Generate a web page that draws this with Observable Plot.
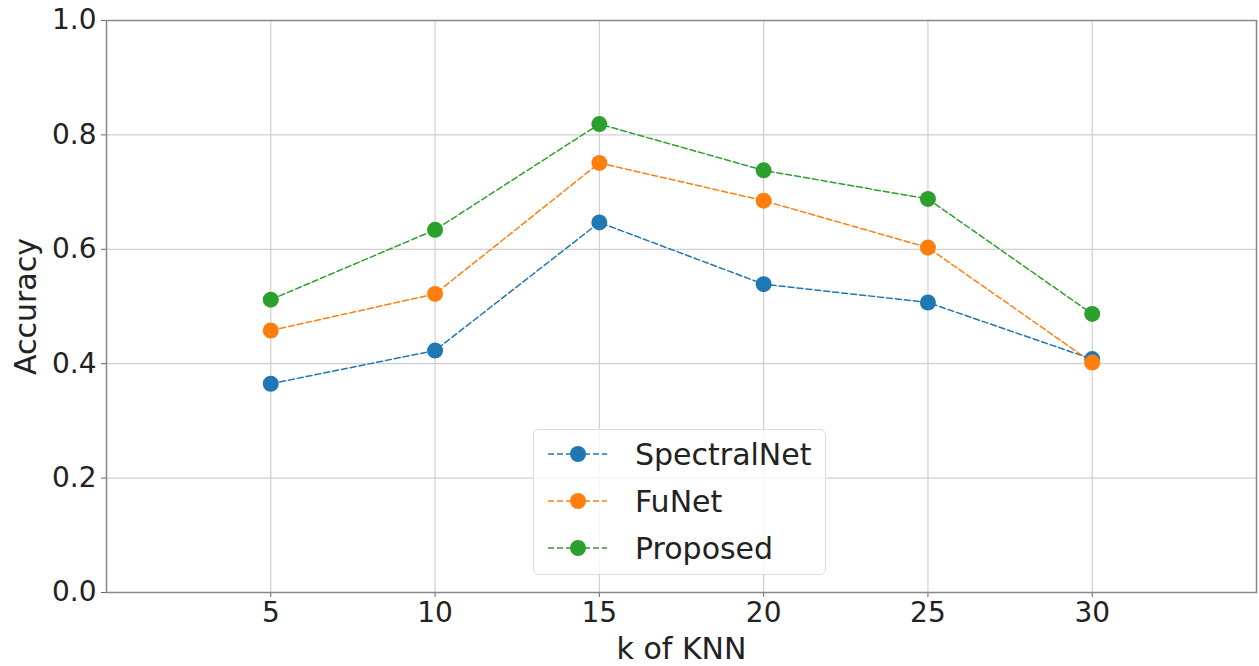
<!DOCTYPE html>
<html><head><meta charset="utf-8">
<script src="https://cdn.jsdelivr.net/npm/d3@7"></script>
<script src="https://cdn.jsdelivr.net/npm/@observablehq/plot@0.6"></script>
<style>
body{margin:0;background:#fff;}
#wrap{position:relative;width:1259px;height:666px;}
#legend{position:absolute;left:533px;top:429px;width:293px;height:146px;border:1.5px solid #ddd;border-radius:6px;background:rgba(255,255,255,0.8);box-sizing:border-box;}
svg [aria-label="x-axis label"] text, svg [aria-label="y-axis label"] text{font-size:30px;}
</style></head>
<body><div id="wrap"></div>
<script>
const ks = [5, 10, 15, 20, 25, 30];
const spectralNet = [0.365, 0.423, 0.647, 0.539, 0.507, 0.408];
const fuNet = [0.458, 0.522, 0.751, 0.685, 0.603, 0.402];
const proposed = [0.512, 0.634, 0.819, 0.738, 0.688, 0.487];
const seriesNames = ["SpectralNet", "FuNet", "Proposed"];
const seriesColors = ["#1f77b4", "#ff7f0e", "#2ca02c"];
const yTicks = [0, 0.2, 0.4, 0.6, 0.8, 1.0];

const seriesValues = [spectralNet, fuNet, proposed];
const data = [];
seriesNames.forEach((name, i) => ks.forEach((k, j) => data.push({series: name, k, v: seriesValues[i][j]})));

const font = "DejaVu Sans";
const chart = Plot.plot({
  width: 1259, height: 666,
  marginLeft: 106, marginRight: 3, marginTop: 20, marginBottom: 74,
  style: {fontFamily: font, fontSize: "28px", color: "#222", background: "#fff"},
  x: {domain: [0, 35]},
  y: {domain: [0, 1]},
  color: {domain: seriesNames, range: seriesColors},
  marks: [
    Plot.gridX(ks, {stroke: "#d0d0d0", strokeOpacity: 1, strokeWidth: 1.2}),
    Plot.gridY(yTicks, {stroke: "#d0d0d0", strokeOpacity: 1, strokeWidth: 1.2}),
    Plot.axisX({ticks: ks, tickSize: 5, tickPadding: 5, fontSize: 28, stroke: "#666",
      label: "k of KNN", labelAnchor: "center", labelArrow: "none", labelOffset: 66}),
    Plot.axisY({ticks: yTicks, tickFormat: d => d.toFixed(1), tickSize: 5, tickPadding: 5, fontSize: 28, stroke: "#666",
      label: "Accuracy", labelAnchor: "center", labelArrow: "none", labelOffset: 92}),
    Plot.frame({stroke: "#888", strokeWidth: 1.5}),
    Plot.line(data, {x: "k", y: "v", z: "series", stroke: "series", strokeWidth: 1.5, strokeDasharray: "6,3"}),
    Plot.dot(data, {x: "k", y: "v", fill: "series", r: 8})
  ]
});
const wrap = document.getElementById("wrap");
wrap.appendChild(chart);

const legend = d3.select(wrap).append("div").attr("id", "legend");
const lsvg = legend.append("svg").attr("width", 290).attr("height", 143);
seriesNames.forEach((name, i) => {
  const g = lsvg.append("g").attr("transform", `translate(0,${24 + i * 47})`);
  g.append("line").attr("x1", 14).attr("x2", 73).attr("y1", 0).attr("y2", 0)
    .attr("stroke", seriesColors[i]).attr("stroke-width", 1.5).attr("stroke-dasharray", "6,3");
  g.append("circle").attr("cx", 44).attr("cy", 0).attr("r", 8).attr("fill", seriesColors[i]);
  g.append("text").attr("x", 101).attr("y", 0).attr("dy", "0.35em")
    .attr("font-family", font).attr("font-size", 30).attr("fill", "#222").text(name);
});
</script>
</body></html>
